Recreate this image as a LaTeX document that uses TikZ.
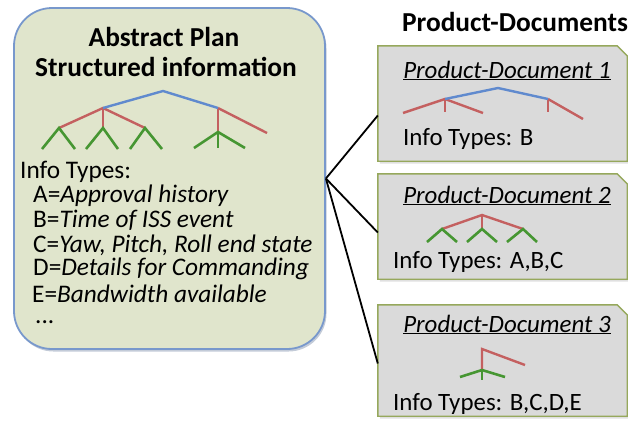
\documentclass[tikz,border=0pt]{standalone}
\usepackage{fontspec}
\setmainfont{Carlito}
\usetikzlibrary{shadows,calc}

\definecolor{planfill}{RGB}{224,229,204}
\definecolor{planedge}{RGB}{120,152,204}
\definecolor{docfill}{RGB}{218,218,218}
\definecolor{docedge}{RGB}{150,168,92}
\definecolor{treeblue}{RGB}{96,138,206}
\definecolor{treered}{RGB}{196,96,96}
\definecolor{treegreen}{RGB}{70,150,50}

\tikzset{
  planbox/.style={draw=planedge, line width=1.8bp, fill=planfill,
    rounded corners=38bp, minimum width=311bp, minimum height=341bp,
    drop shadow={shadow xshift=1.5bp, shadow yshift=-2.5bp, fill=planedge!70!black, opacity=0.35}},
  docarea/.style={minimum width=249bp, draw=none, inner sep=0pt},
  docedge/.style={draw=docedge, line width=1.4bp, fill=docfill},
  docshadow/.style={fill=black, opacity=0.12},
  heading/.style={font=\fontsize{27.5}{32}\selectfont\bfseries, inner sep=0pt},
  body/.style={font=\fontsize{25.4}{30}\selectfont, inner sep=0pt, anchor=base west},
  docbody/.style={font=\fontsize{25}{30}\selectfont, inner sep=0pt, anchor=base west},
  doctitle/.style={font=\fontsize{25}{30}\selectfont\itshape, inner sep=0pt, anchor=base},
  link/.style={draw=black, line width=1.8bp},
  tb/.style={treeblue, line width=2.4bp},
  tr/.style={treered, line width=2.4bp},
  tg/.style={treegreen, line width=2.6bp},
}

% chamfered document card drawn around an (invisible) named node
\newcommand{\doccard}[1]{%
  \fill[docshadow] ([shift={(2bp,-2.5bp)}]#1.south west) -- ([shift={(2bp,-2.5bp)}]#1.north west)
    -- ([shift={(-8bp,-2.5bp)}]#1.north east) -- ([shift={(2bp,-12.5bp)}]#1.north east)
    -- ([shift={(2bp,-2.5bp)}]#1.south east) -- cycle;
  \path[docedge] (#1.south west) -- (#1.north west) -- ([xshift=-10bp]#1.north east)
    -- ([yshift=-10bp]#1.north east) -- (#1.south east) -- cycle;
}

\begin{document}
\begin{tikzpicture}[x=1bp, y=-1bp]
\useasboundingbox (0,0) rectangle (628,420);

% ---------- abstract plan ----------
\node[planbox] (plan) at (169.5,178.5) {};
\node[heading] (ptitle1) at (164,37) {Abstract Plan};
\node[heading] (ptitle2) at (166,67) {Structured information};

% plan tree
\draw[tr] (59,128) -- (103,108) -- (145,128);
\draw[tr] (103,108) -- (103,128);
\draw[tr] (218,108) -- (218,132);
\draw[tr] (218,108) -- (267,133);
\draw[tb] (103,108) -- (163,91) -- (218,108);
\draw[tg] (42,149) -- (59,128) -- (75,149);
\draw[tg] (86,149) -- (103,128) -- (118,149);
\draw[tg] (130,149) -- (145,128) -- (162,149);
\draw[tg] (194,148) -- (218,132) -- (245,148);
\draw[tg] (218,132) -- (218,148);

\node[body] (pinfo) at (20,178) {Info Types:};
\node[body] (pa) at (33,202) {A=\textit{Approval history}};
\node[body] (pb) at (33,227) {B=\textit{Time of ISS event}};
\node[body] (pc) at (33,252) {C=\textit{Yaw, Pitch, Roll end state}};
\node[body] (pd) at (33,275) {D=\textit{Details for Commanding}};
\node[body] (pe) at (32,302) {E=\textit{Bandwidth available}};
\node[body] (pdots) at (35,323) {...};

% ---------- product documents ----------
\node[heading] (dhead) at (515,22) {Product-Documents};

\node[docarea, minimum height=115bp] (doc1) at (502.5,103.5) {};
\node[docarea, minimum height=105bp] (doc2) at (502.5,226.5) {};
\node[docarea, minimum height=111bp] (doc3) at (502.5,360.5) {};
\doccard{doc1}
\doccard{doc2}
\doccard{doc3}

% document 1
\node[doctitle] (d1t) at (507,78) {\underline{Product-Document 1}};
\draw[tr] (403,113) -- (445,99) -- (483,113);
\draw[tr] (445,99) -- (445,112);
\draw[tr] (548,99) -- (548,112);
\draw[tr] (548,99) -- (583,119);
\draw[tb] (445,99) -- (498,88) -- (548,99);
\node[docbody] (d1i) at (403,145) {Info Types: B};

% document 2
\node[doctitle] (d2t) at (507,203) {\underline{Product-Document 2}};
\draw[tr] (442,229) -- (482,215) -- (523,229);
\draw[tr] (482,215) -- (482,229);
\draw[tg] (427,242) -- (442,229) -- (457,242);
\draw[tg] (467,242) -- (482,229) -- (497,242);
\draw[tg] (507,242) -- (523,229) -- (537,242);
\node[docbody] (d2i) at (393,268) {Info Types: A,B,C};

% document 3
\node[doctitle] (d3t) at (507,332) {\underline{Product-Document 3}};
\draw[tr] (482,370) -- (482,349) -- (525,365);
\draw[tg] (460,377) -- (482,370) -- (505,377);
\draw[tg] (482,370) -- (482,380);
\node[docbody] (d3i) at (393,410) {Info Types: B,C,D,E};

% ---------- links ----------
\coordinate (hub) at (plan.east);
\draw[link] (hub) -- ([yshift=-12bp]doc1.west);
\draw[link] (hub) -- ([yshift=-6bp]doc2.west);
\draw[link] (hub) -- ([yshift=-3bp]doc3.west);
\end{tikzpicture}
\end{document}
